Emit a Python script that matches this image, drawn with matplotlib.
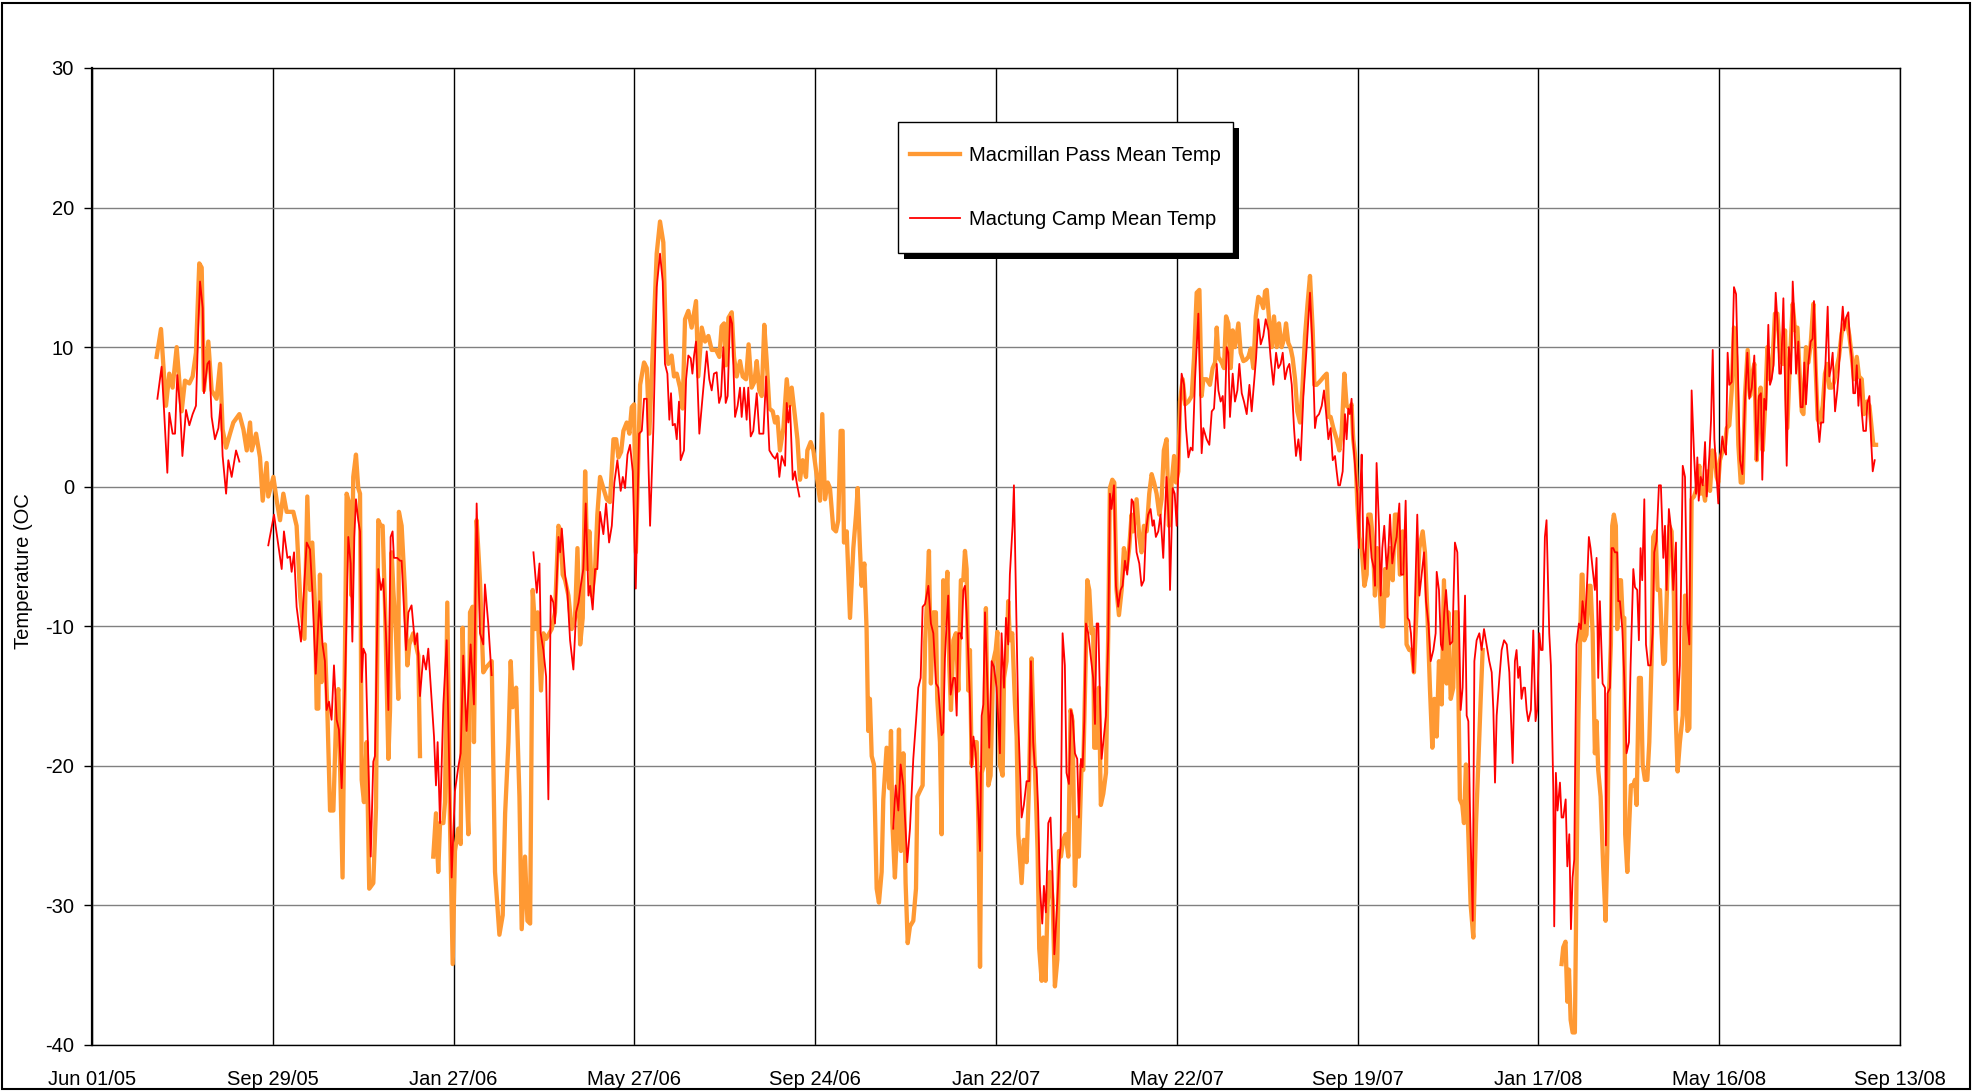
import numpy as np
import matplotlib.pyplot as plt
from matplotlib.patches import Rectangle
from matplotlib.lines import Line2D

plt.rcParams['font.family'] = ['Liberation Sans', 'DejaVu Sans']
plt.rcParams['axes.unicode_minus'] = False

nan = float('nan')

# (days since Jun 01/05, mean temperature in C)
macmillan_pass = [
    (42.9, 9.3), (45.8, 11.3), (47.3, 8.8), (49.1, 5.8), (51.3, 8.1), (53.5, 7.1), (56.2, 10.0),
    (59.5, 5.4), (61.7, 7.6), (64.6, 7.4), (66.8, 7.9), (69.0, 9.6), (71.2, 16.0), (72.8, 15.7),
    (74.3, 6.9), (77.2, 10.4), (79.4, 6.9), (82.7, 6.3), (85.0, 8.8), (86.7, 4.1), (89.0, 2.8),
    (91.6, 3.8), (93.8, 4.6), (97.8, 5.2), (100.5, 4.1), (102.7, 2.6), (104.9, 4.6), (106.0, 2.6),
    (108.9, 3.8), (111.5, 2.1), (113.3, -1.0), (115.9, 1.7), (117.0, -0.7), (120.4, 0.7),
    (122.6, -1.0), (124.8, -2.4), (127.0, -0.5), (129.2, -1.8), (133.6, -1.8), (135.8, -2.8),
    (138.1, -7.8), (141.0, -10.9), (142.9, -0.7), (144.7, -7.4), (146.2, -4.0), (148.0, -8.5),
    (149.1, -15.9), (150.2, -15.9),
    (151.3, -6.3), (152.4, -14.0), (154.6, -11.3), (156.2, -16.0), (158.0, -23.2), (160.2, -23.2),
    (162.4, -15.2), (163.5, -14.5), (166.3, -28.0), (169.0, -0.5), (170.8, -1.2), (172.3, -7.8),
    (173.4, 0.7), (175.2, 2.3), (176.7, -0.1), (177.9, -0.5), (179.0, -21.0), (180.5, -22.6),
    (182.3, -18.3), (184.0, -28.8), (186.7, -28.4), (188.5, -23.0), (190.0, -2.4), (191.6, -2.8),
    (192.9, -2.8), (194.4, -8.2), (196.7, -19.5), (197.8, -16.0), (198.9, -4.7), (200.0, -7.4),
    (201.7, -10.5), (203.3, -15.2), (203.7, -1.8), (205.5, -2.8), (207.7, -7.4), (209.3, -12.8),
    (210.6, -11.3), (213.2, -10.5), (216.6, -12.1), (217.7, -19.3), (222.0, nan),
    (226.5, -26.5), (228.3, -23.4), (229.8, -27.6), (231.0, -24.1), (233.2, -24.1), (234.3, -22.6),
    (235.8, -8.3), (237.6, -24.1), (239.4, -34.2), (240.9, -26.1), (243.1, -24.5), (244.7, -25.6),
    (246.0, -10.1), (247.5, -18.3), (249.8, -24.9), (250.9, -9.0), (252.6, -8.6), (253.5, -18.3),
    (255.3, -2.4), (257.5, -6.7), (259.7, -13.3), (262.0, -12.9),
    (265.3, -12.5), (267.5, -27.6), (270.4, -32.1), (272.6, -30.7), (274.2, -23.4), (276.4, -18.3),
    (277.9, -12.5), (279.2, -15.8), (281.5, -14.4), (283.7, -22.2), (285.2, -31.7), (287.4, -26.5),
    (289.0, -31.1), (290.8, -31.3), (292.5, -7.4), (294.1, -10.2), (295.8, -9.0), (297.0, -12.1),
    (298.0, -14.6), (299.6, -10.5), (301.4, -10.9), (305.1, -10.2), (307.3, -9.0), (309.6, -2.8),
    (311.1, -3.2), (312.4, -6.3), (314.0, -6.7), (316.2, -7.8), (318.4, -10.2), (320.6, -9.4),
    (322.2, -4.4), (324.0, -11.3), (325.7, -9.4), (327.3, 1.1), (328.8, -5.9), (330.1, -3.2),
    (331.7, -7.8), (333.9, -5.9), (335.4, -2.0), (337.2, 0.7), (339.4, -0.1), (341.6, -0.9),
    (343.8, -1.1), (346.1, 3.4), (347.9, 3.4), (349.4, 2.1), (351.2, 2.5), (352.7, 4.0),
    (354.9, 4.6), (356.7, 3.8), (358.2, 5.7), (359.8, 5.9), (361.0, -4.7), (363.8, 7.3),
    (366.4, 8.9), (368.2, 8.5), (369.9, 3.8), (372.6, 10.8), (374.8, 16.7),
    (377.0, 19.0), (379.2, 17.5), (381.0, 10.0), (382.5, 8.8), (384.7, 9.4), (386.3, 7.9),
    (388.1, 8.1), (390.3, 7.1), (392.0, 5.6), (393.6, 12.0), (395.8, 12.6), (398.0, 11.4),
    (400.9, 13.3), (402.4, 7.9), (404.7, 11.4), (406.9, 10.4), (409.1, 10.8), (411.3, 9.8),
    (414.2, 9.8), (416.4, 9.3), (417.9, 11.5), (419.5, 11.7), (420.8, 8.7), (422.4, 12.1),
    (424.6, 12.5), (426.1, 9.3), (427.9, 7.9), (430.1, 9.0), (431.9, 7.9), (434.1, 7.7),
    (435.8, 10.2), (437.8, 7.1), (439.6, 7.5), (441.2, 9.0), (442.9, 6.9), (444.5, 6.5),
    (446.2, 11.6), (447.8, 9.0), (449.6, 5.6), (451.8, 5.4), (453.3, 4.6), (454.9, 5.0),
    (456.6, 2.6), (458.9, 4.2), (461.1, 7.7), (462.8, 5.8), (464.4, 7.1), (466.6, 5.0),
    (468.2, 3.4), (469.9, 0.5), (471.7, 1.9), (473.9, 0.7), (474.8, 2.6), (477.0, 3.2),
    (478.8, 2.6), (479.9, 1.7), (482.1, -0.1), (483.2, -1.0), (484.7, 5.2), (486.5, -0.9),
    (488.3, 0.3),
    (489.8, -0.1), (492.0, -3.0), (493.8, -3.2), (495.3, -2.4), (496.9, 4.0), (498.2, 4.0),
    (499.1, -4.0), (500.9, -3.2), (503.1, -9.4), (505.3, -4.4), (507.1, -2.0), (508.2, -0.1),
    (509.7, -4.4), (510.8, -7.1), (512.6, -5.5), (514.1, -10.2), (515.2, -17.5), (516.3, -15.2),
    (517.5, -19.3), (519.0, -19.9), (520.8, -28.8), (522.3, -29.8), (524.1, -27.6), (525.2, -22.4),
    (527.4, -18.7), (529.2, -21.6), (530.3, -17.5), (531.2, -24.1), (532.9, -28.0), (534.1, -25.2),
    (535.6, -17.4), (536.9, -26.1), (538.5, -19.1), (540.0, -28.4), (541.4, -32.7), (542.9, -31.5),
    (545.1, -31.1), (546.9, -28.8), (547.8, -22.2), (549.5, -21.8), (551.3, -21.4), (552.9, -11.3),
    (554.0, -8.6), (555.5, -4.6), (556.8, -14.1), (558.4, -9.0), (560.1, -9.0), (561.0, -15.2),
    (562.8, -18.3), (563.9, -24.9), (565.0, -6.7), (566.1, -9.8), (567.7, -6.1), (569.0, -12.8),
    (570.1, -16.0), (571.7, -11.0), (573.4, -10.5), (575.0, -14.6), (576.7, -6.7), (578.3, -6.7),
    (579.4, -4.6), (580.5, -5.9), (581.6, -14.6), (582.7, -11.7), (583.8, -19.9), (585.4, -18.3),
    (587.2, -18.3), (588.3, -24.1), (589.4, -34.4), (590.5, -20.5), (592.0, -19.9), (593.3, -8.7),
    (594.9, -21.4), (596.4, -20.7), (598.2, -12.5), (599.8, -11.7), (600.9, -10.4),
    (602.6, -19.9), (604.4, -20.7), (605.3, -13.7), (607.0, -12.5), (608.1, -8.2), (609.2, -11.0),
    (610.8, -10.5), (612.6, -15.6), (613.7, -17.9), (614.8, -24.9), (617.0, -28.4), (618.5, -25.3),
    (620.3, -26.9), (621.9, -21.4), (623.6, -12.3), (625.2, -18.3), (626.5, -22.2), (627.6, -26.1),
    (628.7, -33.1), (630.3, -35.4), (631.4, -32.3), (632.9, -35.4), (634.2, -30.0), (635.8, -27.6),
    (637.6, -29.6), (639.1, -35.8), (640.7, -33.9), (641.8, -26.1), (643.1, -26.5), (644.6, -25.3),
    (646.2, -24.9), (648.0, -26.5), (649.5, -16.0), (650.8, -16.8), (652.4, -28.6), (653.9, -23.7),
    (655.0, -26.5), (656.8, -19.9), (657.9, -20.3), (659.5, -12.5), (660.6, -6.7), (661.9, -7.4),
    (663.4, -10.5), (664.5, -10.2), (665.2, -18.7), (666.8, -18.7), (668.3, -14.4), (669.6, -22.8),
    (671.2, -22.0), (673.0, -20.5), (674.5, -10.5), (675.6, -0.1), (677.2, 0.5), (678.5, 0.3),
    (680.0, -7.4), (681.6, -9.2), (683.4, -7.4), (684.9, -4.4), (686.7, -5.9), (688.4, -4.4),
    (690.0, -2.0), (691.1, -3.2), (693.3, -0.9), (695.1, -3.6), (696.6, -4.7), (698.2, -2.8),
    (700.0, -3.2), (701.7, -0.5), (703.3, 0.9), (704.9, 0.3), (706.6, -0.5), (708.4, -2.0),
    (709.9, -0.9), (711.4, 2.6), (713.2, 3.4), (714.8, -2.8),
    (716.6, 0.3), (718.2, 2.2), (719.5, 0.3), (721.0, 1.1), (722.1, 6.1), (723.9, 7.7),
    (725.5, 5.9), (727.7, 6.1), (729.9, 6.5), (731.4, 9.2), (733.2, 13.9), (735.0, 14.1),
    (736.5, 6.5), (737.6, 7.7), (739.8, 7.7), (742.0, 7.3), (743.8, 8.5), (745.4, 8.9),
    (746.5, 11.4), (747.6, 9.3), (749.8, 8.9), (751.3, 8.5), (752.7, 12.2), (754.2, 11.7),
    (755.8, 8.5), (757.1, 11.2), (758.6, 10.0), (760.9, 11.7), (762.4, 9.6), (764.2, 9.0),
    (765.9, 9.1), (767.5, 9.3), (769.1, 9.9), (770.8, 8.5), (772.4, 12.2), (774.1, 13.6),
    (775.7, 13.4), (777.4, 12.8), (778.6, 14.0), (779.7, 14.1), (781.4, 11.8), (783.0, 10.0),
    (784.5, 12.2), (786.3, 10.0), (787.8, 11.7), (789.6, 10.0), (791.2, 10.6), (792.5, 11.7),
    (794.0, 10.3), (795.6, 9.9), (796.9, 9.2), (798.5, 7.7), (800.0, 5.4), (801.8, 4.6),
    (803.3, 6.9), (805.1, 10.8), (806.7, 13.0), (808.4, 15.1), (810.2, 11.2), (811.3, 7.3),
    (812.8, 7.3), (814.6, 7.5), (816.2, 7.7), (817.7, 7.9), (819.5, 8.1), (820.6, 5.0),
    (822.1, 5.0), (823.9, 4.2), (826.1, 3.4), (827.9, 2.6),
    (829.4, 3.8), (831.2, 8.1), (832.7, 5.8), (834.5, 5.6), (836.0, 5.9), (837.1, 3.4),
    (838.7, 1.9), (839.8, -1.2), (841.1, -3.6), (842.7, -4.4), (844.5, -7.1), (846.0, -6.3),
    (847.1, -2.0), (848.6, -2.0), (850.0, -3.6), (851.5, -7.8), (853.1, -4.4), (854.4, -6.7),
    (856.0, -10.0), (857.1, -10.0), (858.2, -5.9), (859.7, -7.8), (861.5, -4.4), (863.3, -6.7),
    (864.8, -2.0), (866.4, -2.0), (868.1, -6.3), (869.9, -3.2), (871.4, -5.5), (872.5, -11.3),
    (874.3, -11.7), (875.9, -11.7), (877.4, -13.3), (879.2, -8.6), (881.0, -4.4), (883.2, -3.2),
    (884.7, -4.7), (886.3, -9.0), (888.0, -14.4), (889.6, -18.7), (890.9, -15.2), (892.5, -17.9),
    (894.0, -12.5), (895.8, -15.6), (897.3, -6.7), (899.1, -14.1), (900.2, -9.0), (901.8, -15.2),
    (903.5, -14.4), (904.6, -9.0), (906.2, -9.0), (907.9, -22.4), (909.5, -22.8), (910.6, -24.1),
    (911.9, -19.9), (913.5, -24.9), (915.0, -29.9), (916.8, -32.3), (918.6, -24.1), (920.1, -19.9),
    (921.7, -15.2), (923.0, -11.7), (950.0, nan),
    (975.4, -34.2), (976.5, -33.0), (978.0, -32.6), (979.2, -36.9), (980.3, -34.6), (981.4, -38.2),
    (982.7, -39.1), (984.2, -39.1), (985.3, -28.0), (986.5, -16.8), (987.6, -11.3), (988.7, -6.3),
    (989.3, -6.3), (990.4, -11.0), (991.9, -10.6), (993.5, -7.1), (994.6, -7.1), (996.0, -10.5),
    (997.5, -19.1), (998.6, -16.8), (999.7, -20.3), (1001.3, -22.2), (1003.0, -27.2),
    (1004.6, -31.1), (1005.7, -26.1), (1007.0, -14.4), (1008.1, -11.3), (1009.0, -2.8),
    (1010.1, -2.0), (1011.4, -2.8), (1012.3, -10.2), (1013.7, -6.7), (1014.8, -6.7),
    (1015.9, -9.4), (1017.0, -9.4), (1017.6, -24.9), (1019.0, -27.6), (1020.3, -24.1),
    (1021.4, -21.4), (1023.0, -21.4), (1024.1, -21.0), (1025.2, -22.8), (1026.7, -13.7),
    (1028.0, -13.7), (1029.2, -19.9), (1030.7, -21.0), (1032.3, -21.0), (1033.6, -18.3),
    (1035.1, -12.5), (1036.2, -3.6), (1037.8, -3.2), (1039.1, -7.4), (1040.7, -7.4),
    (1041.8, -10.5), (1042.9, -12.7), (1044.0, -12.5), (1045.5, -6.7), (1046.9, -2.8),
    (1048.4, -3.2), (1049.9, -7.8), (1051.0, -16.0), (1052.4, -20.4), (1053.9, -18.3),
    (1055.8, -16.4), (1057.3, -7.8), (1058.9, -17.5), (1060.2, -17.3), (1061.7, -0.9),
    (1063.3, -0.7), (1065.1, -0.1), (1066.8, 1.5), (1067.7, -0.5), (1069.1, 0.0), (1070.6, -1.0),
    (1072.1, 1.1), (1073.9, -0.3), (1075.5, 2.6), (1076.8, 2.4), (1078.3, 0.7), (1079.4, 0.3),
    (1080.5, 1.9), (1082.3, 2.6), (1083.9, 3.0), (1085.0, 4.2), (1086.7, 4.4), (1088.3, 6.9),
    (1089.8, 11.4), (1091.2, 9.3), (1092.7, 3.0), (1094.3, 0.3), (1095.6, 0.3), (1097.1, 6.5),
    (1098.9, 9.8), (1100.5, 6.5), (1102.0, 8.1), (1103.3, 8.8), (1104.9, 1.9), (1106.4, 5.7),
    (1107.5, 7.1), (1108.9, 2.6), (1110.4, 5.6), (1112.0, 10.0), (1113.7, 7.7), (1115.3, 8.8),
    (1117.0, 12.4), (1118.6, 12.4), (1120.4, 9.6), (1122.1, 8.8), (1123.7, 11.2), (1125.2, 4.2),
    (1127.0, 9.2), (1128.8, 13.1), (1130.3, 11.2), (1131.9, 11.4), (1133.2, 8.5), (1134.8, 5.4),
    (1135.9, 5.2), (1137.6, 10.0), (1139.2, 8.9), (1140.7, 10.2), (1142.5, 13.1), (1144.0, 8.5),
    (1145.4, 4.8), (1146.9, 4.6), (1148.7, 5.8), (1150.2, 8.1), (1151.8, 8.8), (1153.1, 7.1),
    (1154.7, 7.1), (1156.2, 7.5), (1157.9, 8.5), (1159.5, 9.3), (1161.3, 11.0), (1162.8, 11.6),
    (1164.6, 12.0), (1166.4, 10.8), (1167.9, 9.4), (1169.5, 7.7), (1171.3, 9.3), (1172.8, 7.9),
    (1174.6, 7.7), (1176.1, 5.2), (1177.9, 6.1), (1179.7, 5.8), (1181.2, 4.2), (1182.3, 3.0),
    (1184.1, 3.0),
]

mactung_camp = [
    (43.4, 6.3), (46.2, 8.6), (47.8, 5.5), (50.0, 1.0), (51.3, 5.3), (53.5, 3.8), (55.1, 3.8),
    (56.6, 8.0), (58.4, 5.8), (60.0, 2.2), (62.4, 5.5), (64.6, 4.4), (66.8, 5.2), (69.0, 5.8),
    (70.6, 11.6), (71.7, 14.7), (73.5, 12.8), (74.3, 6.7), (76.6, 8.8), (77.9, 9.0), (79.4, 5.0),
    (81.6, 3.4), (83.9, 4.2), (85.4, 5.9), (86.7, 2.2), (89.0, -0.5), (90.5, 1.9), (92.7, 0.7),
    (95.6, 2.6), (97.8, 1.8), (108.0, nan),
    (117.0, -4.2), (120.8, -2.0), (123.7, -4.2), (125.9, -5.9), (127.4, -3.2), (129.7, -5.1),
    (131.4, -5.0), (132.5, -6.1), (134.1, -4.7), (135.8, -8.6), (138.7, -11.1), (140.7, -7.4),
    (142.5, -4.0), (144.7, -4.5), (146.2, -7.4), (148.5, -13.4), (150.9, -8.2),
    (153.0, -11.3), (154.6, -12.5), (155.7, -16.0), (157.3, -15.4), (159.0, -16.7), (160.6, -12.8),
    (162.4, -16.7), (163.9, -17.4), (165.7, -21.6), (167.9, -14.4), (170.1, -3.6), (171.7, -5.5),
    (172.8, -11.1), (174.1, -3.6), (175.2, -0.9), (176.7, -2.4), (177.9, -3.2), (179.0, -14.0),
    (180.1, -11.6), (181.6, -12.0), (183.4, -19.7), (185.0, -26.5), (186.7, -19.7), (187.8, -19.3),
    (190.0, -5.9), (191.8, -7.4), (193.3, -6.6), (195.1, -10.5), (196.7, -16.0), (198.2, -3.6),
    (199.5, -3.2), (200.4, -5.1), (202.6, -5.1), (204.4, -5.3), (205.5, -5.3), (208.4, -11.7),
    (210.0, -9.0), (212.1, -8.5), (214.4, -11.3), (215.9, -10.5), (217.7, -15.0), (219.9, -12.1),
    (221.7, -13.1), (223.2, -11.6), (225.4, -15.2), (227.0, -17.9), (228.3, -21.4), (229.4, -18.3),
    (231.0, -24.1), (233.2, -15.6), (235.4, -11.0), (237.1, -20.1), (238.7, -28.0), (240.9, -21.8),
    (243.1, -20.1), (244.7, -19.1), (246.4, -12.1), (248.6, -17.5), (251.3, -11.3), (253.5, -15.6),
    (255.3, -1.2), (257.5, -10.5), (259.7, -11.3), (260.8, -7.0), (263.0, -9.8), (265.2, -13.5),
    (280.0, nan),
    (293.0, -4.7), (295.2, -7.6), (297.0, -5.5), (297.8, -10.5), (299.6, -11.7), (301.4, -13.6),
    (302.9, -22.4), (304.5, -7.8), (306.2, -8.3), (307.3, -9.8), (309.6, -3.6), (310.7, -4.7),
    (311.8, -3.0), (314.0, -6.3), (315.5, -7.5), (317.3, -11.0), (319.5, -13.1), (321.3, -9.0),
    (322.9, -8.3), (324.4, -7.1), (326.1, -5.9), (327.7, -1.2), (329.5, -7.8), (330.6, -7.1),
    (332.3, -8.8), (333.9, -5.9), (335.4, -5.9), (337.2, -1.8), (339.4, -3.4), (341.2, -1.2),
    (343.2, -4.0), (345.0, -2.8), (346.7, 0.3), (348.7, 1.9), (350.9, -0.3), (352.3, 0.7),
    (353.8, -0.1), (355.4, 2.3), (357.1, 3.0), (358.9, 1.1), (360.9, -7.3), (363.1, 3.8),
    (364.9, 4.0), (366.4, 6.3), (368.2, 6.3), (370.4, -2.8), (372.6, 4.2), (374.8, 14.3),
    (377.0, 16.7), (378.8, 14.7), (380.3, 8.8), (381.9, 8.1), (383.2, 4.8), (384.3, 6.7),
    (385.4, 4.4), (386.9, 4.5), (388.1, 3.4), (389.6, 6.1), (390.7, 1.9), (392.9, 2.6),
    (394.3, 7.7), (395.8, 9.4), (397.4, 9.2), (398.5, 8.1), (399.6, 9.4), (400.9, 10.4),
    (403.1, 3.8), (405.3, 6.5), (408.0, 9.7), (409.7, 7.7), (411.3, 6.9), (412.8, 8.1),
    (414.6, 8.2), (416.2, 6.0), (417.5, 6.5), (419.0, 10.0), (420.6, 6.0), (421.9, 6.5),
    (423.5, 12.2), (424.8, 11.7), (426.8, 5.0), (428.5, 5.8), (430.1, 7.1), (431.2, 5.0),
    (432.8, 7.1), (434.5, 4.8), (435.6, 7.1), (437.2, 3.6), (438.9, 4.0), (441.2, 6.7),
    (442.9, 3.8), (445.6, 3.8), (447.4, 7.9), (449.6, 2.6), (451.8, 2.2), (453.5, 2.0),
    (454.9, 2.4), (456.2, 0.7), (457.8, 2.2), (460.0, 1.5), (461.1, 6.0), (462.2, 4.6),
    (463.3, 5.8), (465.1, 0.5), (466.6, 1.1), (467.7, 0.3), (469.5, -0.7), (500.0, nan),
    (531.8, -24.5), (533.4, -21.4), (535.2, -23.2), (536.7, -19.9), (538.5, -21.4), (541.1, -26.9),
    (542.9, -24.5), (545.1, -19.5), (546.9, -16.8), (548.4, -14.4), (550.0, -13.7), (551.3, -8.6),
    (552.9, -8.4), (555.1, -7.1), (556.8, -9.8), (558.4, -10.5), (560.2, -14.1), (561.7, -14.4),
    (563.9, -17.8), (565.0, -17.6), (566.1, -12.3), (567.2, -9.8), (568.3, -7.8), (569.9, -14.9),
    (571.7, -13.7), (572.8, -13.7), (573.9, -16.4), (575.0, -10.5), (576.5, -10.5), (577.2, -10.9),
    (578.3, -7.4), (579.4, -7.1), (580.5, -9.0), (582.7, -15.2), (583.8, -20.1), (585.0, -17.9),
    (586.5, -19.1), (587.8, -22.2), (589.4, -26.1), (590.5, -16.4), (591.6, -15.6), (592.7, -9.0),
    (593.8, -12.5), (595.5, -18.7), (597.1, -12.5), (598.6, -12.9), (600.4, -14.4), (601.5, -16.8),
    (602.6, -19.1), (603.7, -10.5), (605.3, -14.4), (606.6, -9.4), (608.1, -11.3), (609.2, -6.3),
    (611.0, -2.8), (611.9, 0.1), (613.2, -7.4), (614.8, -16.8), (617.0, -23.7), (618.5, -22.8),
    (620.3, -21.1), (622.1, -21.1), (623.2, -12.5), (624.7, -18.3), (625.8, -20.1), (626.9, -20.1),
    (628.0, -23.2), (629.1, -28.6), (630.7, -31.3), (631.8, -28.6), (633.1, -30.5), (634.7, -24.1),
    (636.2, -23.7), (637.6, -28.0), (638.7, -33.5), (640.2, -30.7), (641.8, -27.2), (642.9, -25.7),
    (644.2, -10.5), (645.7, -12.8), (646.8, -20.5), (648.4, -21.3), (649.7, -16.0), (650.8, -16.4),
    (652.4, -19.1), (653.9, -19.5), (655.0, -23.7), (656.4, -19.5), (657.5, -20.1), (658.6, -16.8),
    (659.7, -9.8), (661.2, -10.5), (662.8, -12.1), (664.5, -13.7), (665.7, -17.0), (666.8, -9.8),
    (667.9, -9.8), (669.0, -15.2), (670.1, -19.5), (671.2, -18.3), (673.0, -16.4), (674.5, -11.0),
    (675.6, -0.5), (676.7, -1.6), (678.3, 0.1), (679.6, -7.1), (681.1, -8.6), (682.7, -7.4),
    (684.0, -7.1), (685.6, -5.3), (687.1, -6.3), (688.9, -3.6), (690.0, -0.9), (691.1, -1.1),
    (692.2, -2.8), (693.3, -4.7), (695.1, -5.5), (696.6, -7.1), (698.2, -6.7), (699.5, -3.2),
    (701.0, -2.0), (702.6, -1.6), (703.9, -2.8), (704.8, -2.4), (706.1, -3.6), (707.7, -3.2),
    (709.2, -2.0), (711.0, -5.1), (712.1, -2.0), (713.2, 0.7), (714.8, -2.8),
    (715.5, -7.4), (717.3, -0.1), (718.6, -0.5), (719.9, -2.8), (721.7, 3.4), (723.2, 8.1),
    (724.8, 7.3), (726.1, 4.2), (727.7, 2.1), (729.2, 2.8), (730.5, 2.6), (732.1, 7.7),
    (734.3, 12.4), (736.5, 2.4), (737.6, 4.2), (739.8, 3.4), (741.6, 3.0), (743.2, 5.4),
    (744.7, 5.6), (746.5, 8.8), (747.6, 6.9), (749.1, 6.1), (750.5, 6.5), (751.6, 4.2),
    (753.1, 10.0), (754.2, 9.6), (755.3, 5.0), (757.1, 8.1), (758.6, 6.1), (760.2, 6.9),
    (761.5, 8.8), (763.1, 6.7), (764.6, 6.1), (766.4, 5.2), (768.2, 7.3), (769.7, 5.4),
    (771.3, 7.5), (772.6, 9.2), (774.1, 12.0), (775.7, 10.2), (777.4, 10.8), (779.0, 12.0),
    (780.8, 11.2), (782.3, 9.2), (784.1, 7.3), (785.9, 9.6), (787.4, 8.5), (788.9, 8.8),
    (790.3, 9.6), (791.8, 7.7), (793.4, 8.5), (794.7, 8.8), (796.3, 7.3), (797.8, 4.2),
    (799.1, 2.2), (800.7, 3.4), (802.2, 1.9), (804.0, 6.5), (806.2, 10.0), (808.4, 13.9),
    (810.2, 9.6), (811.7, 4.2), (812.8, 5.0), (814.4, 5.2), (816.2, 5.8), (817.7, 6.9),
    (819.0, 5.4), (820.6, 3.4), (822.1, 4.2), (823.5, 1.9), (825.0, 2.2), (826.1, 1.1),
    (827.2, 0.1),
    (828.3, 0.1), (830.1, 1.1), (831.6, 5.2), (832.7, 3.4), (833.8, 5.6), (834.9, 5.2),
    (836.0, 6.3), (836.7, 3.8), (838.3, 1.5), (839.8, -0.5), (840.9, -4.4), (842.0, 0.3),
    (842.7, 2.3), (843.8, -4.4), (844.9, -5.9), (846.4, -2.2), (847.8, -2.8), (849.3, -5.1),
    (850.9, -5.9), (851.5, -7.1), (852.6, 1.7), (854.2, -2.8), (855.3, -7.8), (856.4, -4.4),
    (857.7, -2.8), (859.3, -5.9), (860.4, -4.7), (861.5, -2.0), (863.0, -5.5), (864.4, -4.4),
    (865.9, -3.6), (867.7, -1.2), (868.8, -6.3), (870.3, -6.3), (871.9, -1.0), (873.2, -9.4),
    (874.3, -9.6), (875.4, -10.5), (877.0, -13.3), (878.1, -8.2), (879.6, -2.0), (881.0, -7.8),
    (882.5, -6.3), (884.1, -4.7), (885.4, -8.2), (887.0, -9.8), (888.5, -12.5), (890.3, -11.7),
    (891.8, -10.5), (892.5, -6.1), (894.0, -7.4), (895.3, -11.3), (896.4, -11.7), (897.5, -9.0),
    (898.7, -7.4), (900.2, -9.8), (901.3, -11.3), (902.9, -11.1), (904.6, -4.0), (906.2, -4.7),
    (907.3, -9.8), (908.4, -16.0), (909.7, -14.4), (911.3, -7.8), (912.4, -16.4), (913.5, -16.8),
    (914.6, -23.2), (916.4, -31.1), (917.5, -12.5), (919.0, -11.0), (920.8, -10.5), (922.3, -11.7),
    (923.9, -10.2), (925.6, -11.3), (927.4, -12.5), (929.0, -13.3), (930.1, -16.0), (931.2, -21.2),
    (932.3, -16.4), (934.1, -13.7), (935.6, -11.7), (937.2, -11.0), (939.0, -11.3), (940.7, -13.3),
    (942.9, -19.8), (944.4, -12.5), (945.5, -11.7), (946.6, -13.7), (947.7, -12.9), (948.8, -15.2),
    (950.0, -14.4), (951.1, -14.4), (952.2, -16.0), (953.3, -16.8), (955.0, -16.0), (956.6, -10.3),
    (958.1, -16.8), (959.2, -16.0), (960.6, -10.5), (961.7, -11.7), (962.8, -11.7), (964.3, -3.6),
    (965.4, -2.4), (967.2, -10.5), (968.3, -12.8), (969.9, -21.8), (970.5, -31.5), (971.6, -20.5),
    (972.7, -23.2), (974.3, -21.2), (975.4, -23.7), (976.5, -23.7), (978.1, -22.4), (979.2, -27.2),
    (980.5, -24.9), (981.6, -31.7), (982.7, -28.0), (983.8, -26.7), (984.7, -16.8), (985.3, -11.3),
    (986.9, -9.8), (988.2, -10.2), (989.3, -8.2), (990.9, -9.8), (992.4, -6.7), (993.5, -3.6),
    (994.6, -4.4), (996.0, -5.9), (997.5, -7.4), (998.6, -5.1), (999.7, -13.7), (1000.8, -8.2),
    (1002.6, -14.1), (1004.2, -14.4), (1004.8, -25.7), (1005.9, -14.8), (1007.5, -14.4),
    (1008.6, -4.4), (1009.7, -4.4), (1010.8, -4.7), (1012.3, -4.7), (1013.0, -8.2), (1014.1, -8.2),
    (1015.7, -10.2), (1017.0, -13.7), (1018.5, -19.1), (1020.1, -18.3), (1021.2, -12.8),
    (1023.0, -5.9), (1024.1, -7.2), (1025.6, -7.4), (1026.7, -11.0), (1027.8, -4.4), (1028.9, -6.7),
    (1030.3, -0.9), (1031.4, -11.3), (1032.9, -12.8), (1034.5, -12.8), (1035.8, -10.5),
    (1036.9, -4.7), (1038.4, -3.9), (1040.0, 0.1), (1041.3, 0.1), (1042.9, -5.1), (1044.0, -2.8),
    (1045.1, -7.4), (1046.6, -1.6), (1048.0, -3.0), (1049.5, -7.4), (1051.3, -4.0), (1052.4, -16.0),
    (1053.9, -12.8),
    (1055.8, 1.5), (1057.3, 0.7), (1058.9, -9.8), (1060.2, -11.3), (1061.7, 6.9), (1063.3, 2.3),
    (1064.6, -0.5), (1065.5, 2.1), (1066.4, -1.0), (1067.7, 0.7), (1069.1, 0.1), (1070.6, 3.2),
    (1071.7, -0.7), (1073.5, 2.3), (1074.6, 4.8), (1075.7, 9.8), (1076.8, 3.4), (1078.3, 0.7),
    (1079.4, -1.2), (1080.5, 1.7), (1082.1, 3.6), (1083.4, 2.6), (1084.5, 2.3), (1085.6, 9.6),
    (1086.7, 7.3), (1088.3, 7.5), (1089.8, 14.3), (1091.2, 13.8), (1092.7, 6.9), (1093.8, 1.9),
    (1095.4, 0.9), (1097.1, 6.1), (1098.7, 9.6), (1100.0, 6.3), (1101.6, 7.1), (1103.3, 9.4),
    (1104.9, 1.9), (1106.4, 6.5), (1107.7, 6.7), (1108.6, 0.5), (1109.9, 6.3), (1111.1, 5.5),
    (1112.6, 11.6), (1113.7, 7.3), (1114.8, 7.7), (1116.0, 8.7), (1117.5, 13.9), (1118.8, 11.6),
    (1119.9, 8.1), (1121.0, 8.1), (1122.6, 13.5), (1123.7, 7.3), (1124.8, 1.5), (1126.3, 10.0),
    (1127.7, 8.1), (1128.8, 14.7), (1129.9, 12.0), (1131.0, 8.1), (1132.5, 10.4), (1134.1, 5.7),
    (1135.4, 5.7), (1136.5, 8.9), (1137.6, 5.9), (1139.2, 8.9), (1140.7, 10.4), (1142.0, 10.6),
    (1142.9, 13.3), (1144.0, 8.9), (1145.4, 4.6), (1146.5, 3.2), (1147.6, 4.6), (1149.1, 4.6),
    (1150.7, 9.3), (1152.0, 12.9), (1153.1, 7.9), (1154.2, 8.5), (1155.3, 9.6), (1156.9, 5.4),
    (1158.4, 6.9), (1159.5, 8.5), (1160.6, 10.8), (1162.0, 12.9), (1163.1, 11.2), (1164.2, 12.1),
    (1165.7, 12.5), (1166.8, 10.4), (1167.9, 9.3), (1169.0, 6.7), (1170.2, 6.7), (1171.3, 8.7),
    (1172.4, 5.8), (1173.5, 7.7), (1174.6, 5.4), (1175.7, 4.0), (1177.4, 4.0), (1178.3, 6.0),
    (1179.7, 6.5), (1180.8, 3.4), (1181.9, 1.1), (1183.2, 1.9),
]

tick_labels = ['Jun 01/05', 'Sep 29/05', 'Jan 27/06', 'May 27/06', 'Sep 24/06', 'Jan 22/07',
               'May 22/07', 'Sep 19/07', 'Jan 17/08', 'May 16/08', 'Sep 13/08']
y_ticks = [-40, -30, -20, -10, 0, 10, 20, 30]

start = np.datetime64('2005-06-01T00:00')


def to_dates(days):
    return start + (np.asarray(days) * 24 * 60).round().astype('timedelta64[m]')


mac_days, mac_temp = np.array(macmillan_pass).T
camp_days, camp_temp = np.array(mactung_camp).T
tick_dates = to_dates([120 * i for i in range(len(tick_labels))])

fig = plt.figure(figsize=(19.77, 10.91), dpi=100)
ax = fig.add_axes([92 / 1977, 1 - 1045 / 1091, (1900 - 92) / 1977, (1045 - 68) / 1091])

ax.plot(to_dates(mac_days), mac_temp, color='#FF9933', lw=3.1, zorder=3)
ax.plot(to_dates(camp_days), camp_temp, color='#FF0000', lw=1.3, zorder=4)

ax.set_xlim(tick_dates[0], tick_dates[-1])
ax.set_ylim(-40, 30)
ax.set_xticks(tick_dates)
ax.set_xticklabels(tick_labels)
ax.set_yticks(y_ticks)
ax.tick_params(axis='x', length=0, pad=18, labelsize=14.5)
ax.tick_params(axis='y', direction='out', length=6, width=1, pad=7, labelsize=14.5)

ax.yaxis.grid(True, color='#808080', lw=1.0)
ax.xaxis.grid(True, color='black', lw=1.0)
ax.set_axisbelow(True)
for side in ['top', 'right', 'bottom']:
    ax.spines[side].set_color('black')
    ax.spines[side].set_linewidth(1.0)
ax.spines['left'].set_linewidth(1.6)

ax.set_ylabel('Temperature (OC', fontsize=14.5)
ax.yaxis.set_label_coords(-0.0326, 0.485)

# legend box with a hard black shadow
lx, ly, lw_, lh = 0.4458, 0.8106, 0.1853, 0.1341
ax.add_patch(Rectangle((lx + 0.0035, ly - 0.0065), lw_, lh, transform=ax.transAxes,
                       facecolor='black', edgecolor='none', zorder=5))
ax.add_patch(Rectangle((lx, ly), lw_, lh, transform=ax.transAxes,
                       facecolor='white', edgecolor='black', lw=1.0, zorder=6))
handles = [Line2D([], [], color='#FF9933', lw=3.1), Line2D([], [], color='#FF0000', lw=1.3)]
leg = ax.legend(handles, ['Macmillan Pass Mean Temp', 'Mactung Camp Mean Temp'],
                loc='center', bbox_to_anchor=(lx + lw_ / 2, ly + lh / 2), frameon=False,
                fontsize=14.5, labelspacing=2.2, handlelength=2.5, handletextpad=0.45)
leg.set_zorder(7)

# outer chart border
fig.add_artist(Rectangle((0.0008, 0.0015), 0.9955, 0.9955, transform=fig.transFigure,
                         fill=False, edgecolor='black', lw=1.5))

fig.savefig('out.png', dpi=100)
